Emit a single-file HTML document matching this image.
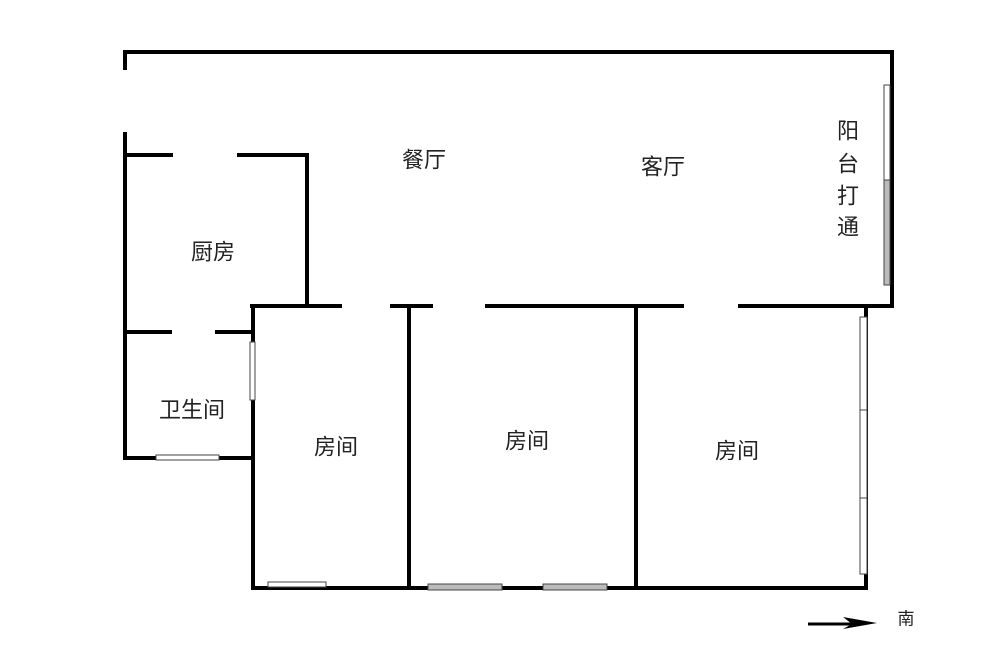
<!DOCTYPE html>
<html><head><meta charset="utf-8"><style>
body{margin:0;background:#fff;}
svg{display:block}
text{font-family:"Liberation Sans","Noto Sans CJK SC",sans-serif;font-size:22px;fill:#222;dominant-baseline:central;text-anchor:middle}
</style></head><body>
<svg width="1000" height="661" viewBox="0 0 1000 661">
<g stroke="#000" stroke-width="4" fill="none" stroke-linecap="square">
<path d="M125 68 V52 H892 V306 H740"/>
<path d="M682 306 H487"/>
<path d="M431 306 H392"/>
<path d="M340 306 H252"/>
<path d="M125 134 V458 H253"/>
<path d="M125 155 H171"/>
<path d="M239 155 H307 V306"/>
<path d="M125 332 H170"/>
<path d="M217 332 H252"/>
<path d="M253 306 V588 H866 V306"/>
<path d="M409 306 V588"/>
<path d="M636 306 V588"/>
</g>
<g stroke="#444" stroke-width="1" fill="#fff">
<rect x="884" y="85" width="6" height="200"/>
<rect x="884" y="180" width="6" height="105" fill="#bbb"/>
<rect x="860" y="317" width="7" height="257"/>
<line x1="860" y1="410" x2="867" y2="410"/>
<line x1="860" y1="498" x2="867" y2="498"/>
<rect x="250" y="342" width="5" height="58"/>
<rect x="156" y="455" width="63" height="5"/>
<rect x="268" y="582" width="58" height="5"/>
<rect x="428" y="584" width="74" height="6" fill="#bbb"/>
<rect x="543" y="584" width="64" height="6" fill="#bbb"/>
</g>
<line x1="808" y1="624" x2="862" y2="624" stroke="#000" stroke-width="3"/>
<polygon points="877,623 843,617 852,624 843,629" fill="#000"/>
<text x="424" y="160">餐厅</text>
<text x="663" y="167">客厅</text>
<text x="213" y="252">厨房</text>
<text x="192" y="410">卫生间</text>
<text x="336" y="447">房间</text>
<text x="527" y="441">房间</text>
<text x="737" y="451">房间</text>
<text x="848" y="131">阳</text>
<text x="848" y="164">台</text>
<text x="848" y="196">打</text>
<text x="848" y="227">通</text>
<text x="906" y="619" style="font-size:17px">南</text>
</svg>
</body></html>
